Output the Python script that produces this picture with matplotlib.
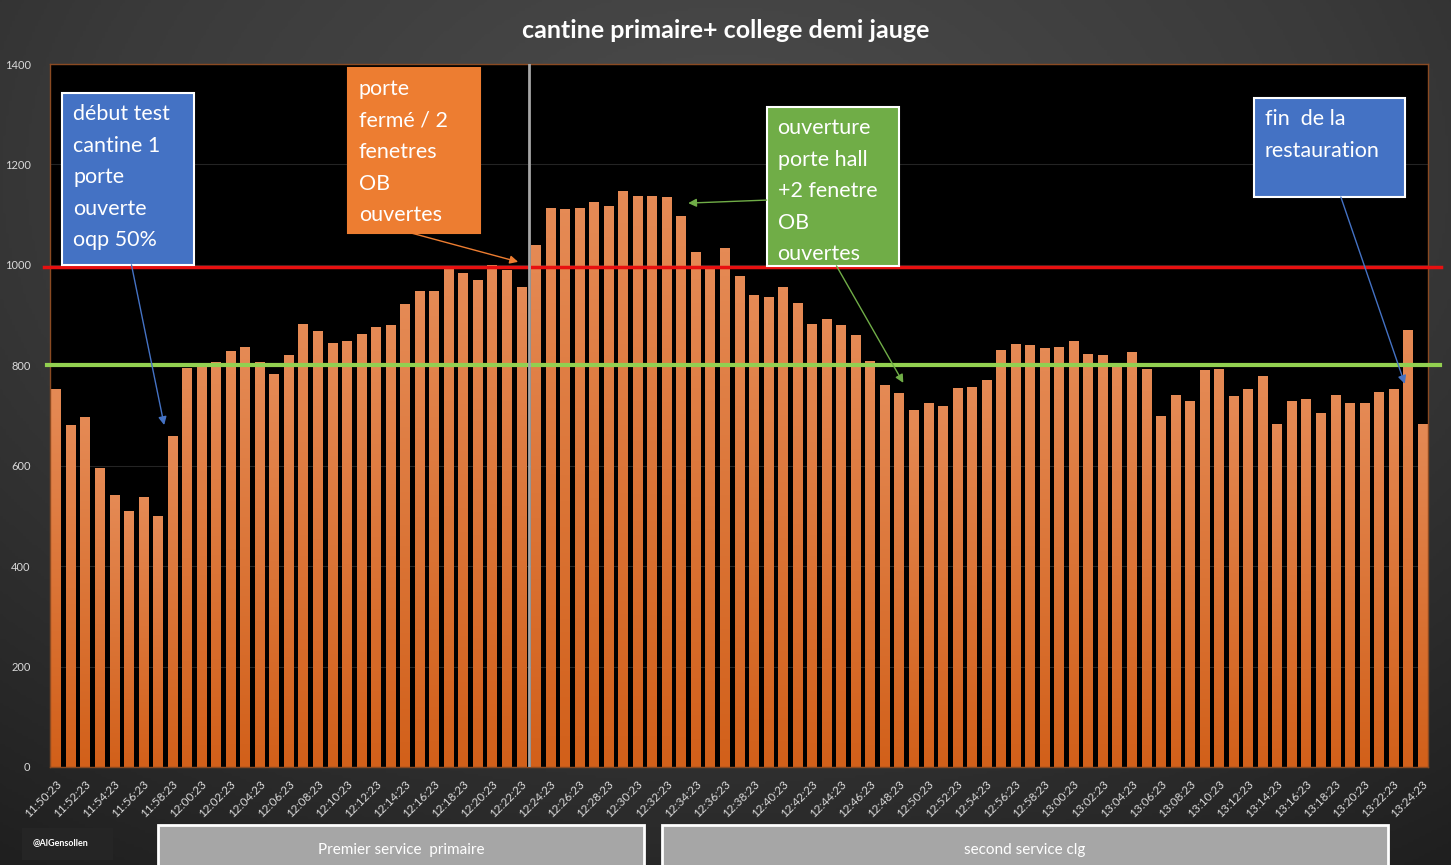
import numpy as np
import pandas as pd
import matplotlib
matplotlib.use("Agg")
import matplotlib.pyplot as plt
from matplotlib.patches import Rectangle
from matplotlib.colors import LinearSegmentedColormap

# CO2 readings (ppm), one per minute from 11:50:23 to 13:24:23
ppm = [752, 681, 698, 596, 542, 509, 537, 500, 660, 795,
       801, 806, 828, 837, 806, 783, 821, 882, 868, 844,
       849, 863, 876, 880, 922, 948, 948, 991, 983, 969,
       999, 990, 955, 1040, 1114, 1111, 1114, 1125, 1117, 1147,
       1138, 1138, 1135, 1097, 1026, 992, 1033, 977, 939, 936,
       955, 925, 882, 892, 880, 861, 809, 761, 745, 710,
       724, 719, 754, 757, 771, 830, 842, 840, 834, 837,
       849, 823, 821, 801, 826, 792, 700, 740, 729, 790,
       793, 738, 752, 778, 683, 729, 733, 704, 740, 725,
       724, 747, 752, 870, 683]
times = pd.date_range("2021-01-01 11:50:23", periods=len(ppm), freq="min").strftime("%H:%M:%S")
seuil_rouge = 995
seuil_vert = 800
changement_service = 32.55

plt.rcParams["font.family"] = ["Lato", "DejaVu Sans"]

fig = plt.figure(figsize=(14.51, 8.65), dpi=100)

# dark radial background
bg = fig.add_axes([0, 0, 1, 1], zorder=-10)
yy, xx = np.mgrid[-1:1:300j, -1:1:500j]
r = np.sqrt((xx * 0.9) ** 2 + ((yy + 0.6) * 0.8) ** 2)
bg_cmap = LinearSegmentedColormap.from_list("bg", ["#4c4c4c", "#3a3a3a", "#1f1f1f"])
bg.imshow(r, cmap=bg_cmap, aspect="auto", extent=[0, 1, 0, 1])
bg.axis("off")

ax = fig.add_axes([0.0345, 0.1133, 0.9497, 0.8127])
ax.set_facecolor("black")

x = np.arange(len(ppm))
bars = ax.bar(x, ppm, width=0.62, color="#DD6E28", zorder=2)

# vertical gradient on each bar
grad = np.linspace(0, 1, 128).reshape(-1, 1)
bar_cmap = LinearSegmentedColormap.from_list("bar", ["#D2601A", "#E58A55"])
for b in bars:
    im = ax.imshow(grad, cmap=bar_cmap, origin="lower", aspect="auto", zorder=2.1,
                   extent=[b.get_x(), b.get_x() + b.get_width(), 0, b.get_height()])
    im.set_clip_path(b)

ax.set_xlim(-0.4, len(ppm) - 0.6)
ax.set_ylim(0, 1400)
ax.set_yticks(range(0, 1401, 200))
ax.yaxis.grid(True, color="#242424", lw=0.8, zorder=0)
ax.set_axisbelow(True)
ax.set_xticks(x[::2])
ax.set_xticklabels(times[::2], rotation=45, ha="right", rotation_mode="anchor")
ax.tick_params(axis="x", colors="#d9d9d9", labelsize=8.5, length=0, pad=8)
ax.tick_params(axis="y", colors="#d9d9d9", labelsize=8, length=0, pad=14)
for s in ax.spines.values():
    s.set_color("#8a4a22")
    s.set_linewidth(1)

# thresholds and service change
ax.plot([-0.8, len(ppm) + 0.3], [seuil_rouge] * 2, color="#E81010", lw=2.5, zorder=3, clip_on=False)
ax.plot([-0.6, len(ppm) + 0.2], [seuil_vert] * 2, color="#92D050", lw=3, zorder=3, clip_on=False)
ax.axvline(changement_service, color="#A6A6A6", lw=2, zorder=3)

# annotation boxes
notes = [
    ("début test\ncantine 1\nporte\nouverte\noqp 50%", 0.45, 1000, 9.5, 1342, "#4472C4"),
    ("porte\nfermé / 2\nfenetres\nOB\nouvertes", 20.1, 1063, 29.2, 1392, "#ED7D31"),
    ("ouverture\nporte hall\n+2 fenetre\nOB\nouvertes", 48.9, 998, 58.0, 1314, "#70AD47"),
    ("fin  de la\nrestauration", 82.4, 1135, 92.8, 1332, "#4472C4"),
]
for txt, x0, y0, x1, y1, c in notes:
    ec = "white" if c != "#ED7D31" else c
    ax.add_patch(Rectangle((x0, y0), x1 - x0, y1 - y0, facecolor=c, edgecolor=ec,
                           lw=1.5, zorder=5, clip_on=False))
    ax.text(x0 + 0.75, y1 - 22, txt, color="white", fontsize=15.5, va="top", ha="left",
            linespacing=1.72, zorder=6)

arrows = [
    ((5.2, 1000), (7.45, 681), "#4472C4"),
    ((24.5, 1063), (31.8, 1006), "#ED7D31"),
    ((48.9, 1129), (43.5, 1123), "#70AD47"),
    ((53.7, 998), (58.3, 765), "#70AD47"),
    ((88.4, 1135), (92.8, 763), "#4472C4"),
]
for start, end, c in arrows:
    ax.annotate("", xy=end, xytext=start, zorder=6,
                arrowprops=dict(arrowstyle="-|>", color=c, lw=1, mutation_scale=12,
                                shrinkA=0, shrinkB=0))

fig.text(0.5, 0.965, "cantine primaire+ college demi jauge", color="white",
         fontsize=18, fontweight="bold", ha="center", va="center")

# service bands under the axis
W, H = 1451, 865
for label, x0, x1 in [("Premier service  primaire", 158, 644), ("second service clg", 662, 1388)]:
    fig.add_artist(Rectangle((x0 / W, -0.02), (x1 - x0) / W, (870 - 830) / H + 0.02,
                             transform=fig.transFigure, facecolor="#A6A6A6",
                             edgecolor="white", lw=2))
    fig.text((x0 + x1) / 2 / W, 1 - 850 / H, label, color="white", fontsize=11,
             ha="center", va="center")

fig.add_artist(Rectangle((22 / W, 1 - 860 / H), 91 / W, 32 / H, transform=fig.transFigure,
                         facecolor="#252525", edgecolor="none"))
fig.text(33 / W, 1 - 843 / H, "@AlGensollen", color="white", fontsize=6.5,
         fontweight="bold", ha="left", va="center")

fig.savefig("out.png", dpi=100)
